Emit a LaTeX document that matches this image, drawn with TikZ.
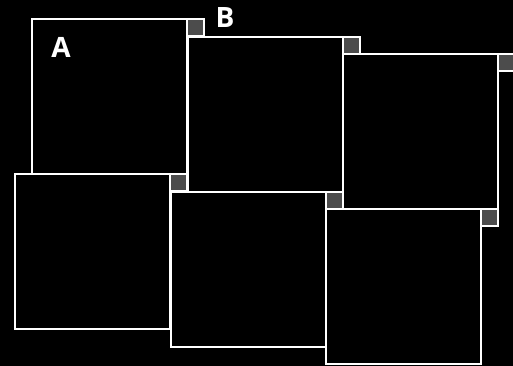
\documentclass[tikz,border=0pt]{standalone}
\usepackage{fontspec}
\setmainfont{Open Sans}
\begin{document}
\begin{tikzpicture}[x=1pt,y=-1pt,
  bigsq/.style={draw=white, line width=2pt, fill=black, rectangle, minimum width=155pt, minimum height=155pt, inner sep=0pt, outer sep=0pt},
  corner/.style={draw=white, line width=2pt, fill=black!70!white, rectangle, minimum width=17pt, minimum height=17pt, inner sep=0pt, outer sep=0pt},
  lbl/.style={text=white, font=\fontsize{28}{30}\selectfont\bfseries, inner sep=0pt}]
\fill[black] (0,0) rectangle (513,366);
\useasboundingbox (0,0) rectangle (513,366);
\node[bigsq] (A) at (109.5,96.5) {};
\node[corner, anchor=north west] (a) at (A.north east) {};
\node[bigsq] (B) at (265,114.5) {};
\node[corner, anchor=north west] (b) at (B.north east) {};
\node[bigsq] (C) at (420.5,131.5) {};
\node[corner, anchor=north west] (c) at (C.north east) {};
\node[bigsq] (D) at (92.5,251.5) {};
\node[corner, anchor=north west] (d) at (D.north east) {};
\node[bigsq] (E) at (248,269.5) {};
\node[corner, anchor=north west] (e) at (E.north east) {};
\node[bigsq] (F) at (403,286.5) {};
\node[corner, anchor=north west] (f) at (F.north east) {};
\node[lbl] (la) at (61,47) {A};
\node[lbl] (lb) at (225,18) {B};
\end{tikzpicture}
\end{document}
